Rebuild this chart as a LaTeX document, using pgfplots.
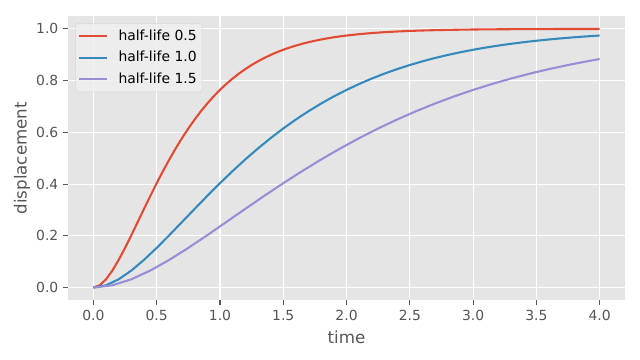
\documentclass[border=0pt]{standalone}
\usepackage{fontspec}
\setmainfont{DejaVu Sans}
\usepackage{pgfplots}
\pgfplotsset{compat=1.18}
\definecolor{bgc}{HTML}{E5E5E5}
\definecolor{tc}{HTML}{555555}
\definecolor{c1}{HTML}{E24A33}
\definecolor{c2}{HTML}{348ABD}
\definecolor{c3}{HTML}{988ED5}
\begin{document}
\begin{tikzpicture}
\begin{axis}[
  name=ax,
  scale only axis,
  width=400.3pt, height=204.5pt,
  xmin=-0.2, xmax=4.2, ymin=-0.05, ymax=1.05,
  axis background/.style={fill=bgc},
  axis line style={draw=none},
  grid=major,
  grid style={white, line width=0.8pt},
  xtick={0,0.5,1,1.5,2,2.5,3,3.5,4},
  ytick={0,0.2,0.4,0.6,0.8,1},
  xticklabels={0.0,0.5,1.0,1.5,2.0,2.5,3.0,3.5,4.0},
  yticklabels={0.0,0.2,0.4,0.6,0.8,1.0},
  tick align=outside,
  major tick length=3.5pt,
  tick style={tc, line width=0.8pt},
  xtick pos=bottom, ytick pos=left,
  ticklabel style={font=\fontsize{10}{12}\selectfont, text=tc},
  /pgf/number format/assume math mode=true,
  xlabel={time}, ylabel={displacement},
  label style={font=\fontsize{12}{14}\selectfont, text=tc},
  ylabel style={at={(axis description cs:-0.0827,0.5)}, anchor=center},
  xlabel style={at={(axis description cs:0.5,-0.129)}, anchor=center},
  legend cell align=left,
  legend style={font=\fontsize{10}{12}\selectfont, fill=bgc!60!white, fill opacity=0.8, text opacity=1, draw=black!15, rounded corners=2pt, inner xsep=2pt, inner ysep=2.8pt, row sep=2.2pt, at={(0.0126,0.975)}, anchor=north west},
  legend image code/.code={\draw[#1, line width=1.5pt] (0pt,0pt) -- (20pt,0pt); \path (25.5pt,0pt);},
  every axis plot/.append style={line width=1.5pt},
]
\addplot[c1] coordinates {
(0,0) (0.05,0.008765) (0.1,0.032019) (0.15,0.065862) (0.2,0.107164) (0.25,0.153426)
(0.3,0.202673) (0.35,0.253356) (0.4,0.304278) (0.45,0.354527) (0.5,0.403426)
(0.55,0.450481) (0.6,0.495350) (0.65,0.537813) (0.7,0.577738) (0.75,0.615070)
(0.8,0.649813) (0.85,0.682013) (0.9,0.711744) (0.95,0.739104) (1.0,0.764213)
(1.05,0.787194) (1.1,0.808175) (1.15,0.827288) (1.2,0.844670) (1.25,0.860446)
(1.3,0.874738) (1.35,0.887672) (1.4,0.899356) (1.45,0.909896) (1.5,0.919392)
(1.55,0.927943) (1.6,0.935625) (1.65,0.942530) (1.7,0.948728) (1.75,0.954281)
(1.8,0.959258) (1.85,0.963708) (1.9,0.967695) (1.95,0.971254) (2.0,0.974433)
(2.1,0.979806) (2.2,0.984075) (2.3,0.987459) (2.4,0.990141) (2.5,0.992254)
(2.6,0.993926) (2.7,0.995239) (2.8,0.996276) (2.9,0.997089) (3.0,0.997726)
(3.1,0.998225) (3.2,0.998618) (3.3,0.998924) (3.4,0.999161) (3.5,0.999347)
(3.6,0.999493) (3.7,0.999606) (3.8,0.999694) (3.9,0.999763) (4.0,0.999815)
};
\addlegendentry{half-life 0.5}
\addplot[c2] coordinates {
(0,0) (0.1,0.008765) (0.2,0.032019) (0.3,0.065862) (0.4,0.107164) (0.5,0.153426)
(0.6,0.202673) (0.7,0.253356) (0.8,0.304278) (0.9,0.354527) (1.0,0.403426)
(1.1,0.450481) (1.2,0.495350) (1.3,0.537813) (1.4,0.577738) (1.5,0.615070)
(1.6,0.649813) (1.7,0.682013) (1.8,0.711744) (1.9,0.739104) (2.0,0.764213)
(2.1,0.787194) (2.2,0.808175) (2.3,0.827288) (2.4,0.844670) (2.5,0.860446)
(2.6,0.874738) (2.7,0.887672) (2.8,0.899356) (2.9,0.909896) (3.0,0.919392)
(3.1,0.927943) (3.2,0.935625) (3.3,0.942530) (3.4,0.948728) (3.5,0.954281)
(3.6,0.959258) (3.7,0.963708) (3.8,0.967695) (3.9,0.971254) (4.0,0.974433)
};
\addlegendentry{half-life 1.0}
\addplot[c3] coordinates {
(0,0) (0.15,0.008765) (0.3,0.032019) (0.45,0.065862) (0.6,0.107164) (0.75,0.153426)
(0.9,0.202673) (1.05,0.253356) (1.2,0.304278) (1.35,0.354527) (1.5,0.403426)
(1.65,0.450481) (1.8,0.495350) (1.95,0.537813) (2.1,0.577738) (2.25,0.615070)
(2.4,0.649813) (2.55,0.682013) (2.7,0.711744) (2.85,0.739104) (3.0,0.764213)
(3.15,0.787194) (3.3,0.808175) (3.45,0.827288) (3.6,0.844670) (3.75,0.860446)
(3.9,0.874738) (4.0,0.883505)
};
\addlegendentry{half-life 1.5}
\end{axis}
\pgfresetboundingbox
\useasboundingbox ([xshift=-48.96pt,yshift=-42.7pt]ax.south west) rectangle ([xshift=10.8pt,yshift=11.5pt]ax.north east);
\end{tikzpicture}
\end{document}
